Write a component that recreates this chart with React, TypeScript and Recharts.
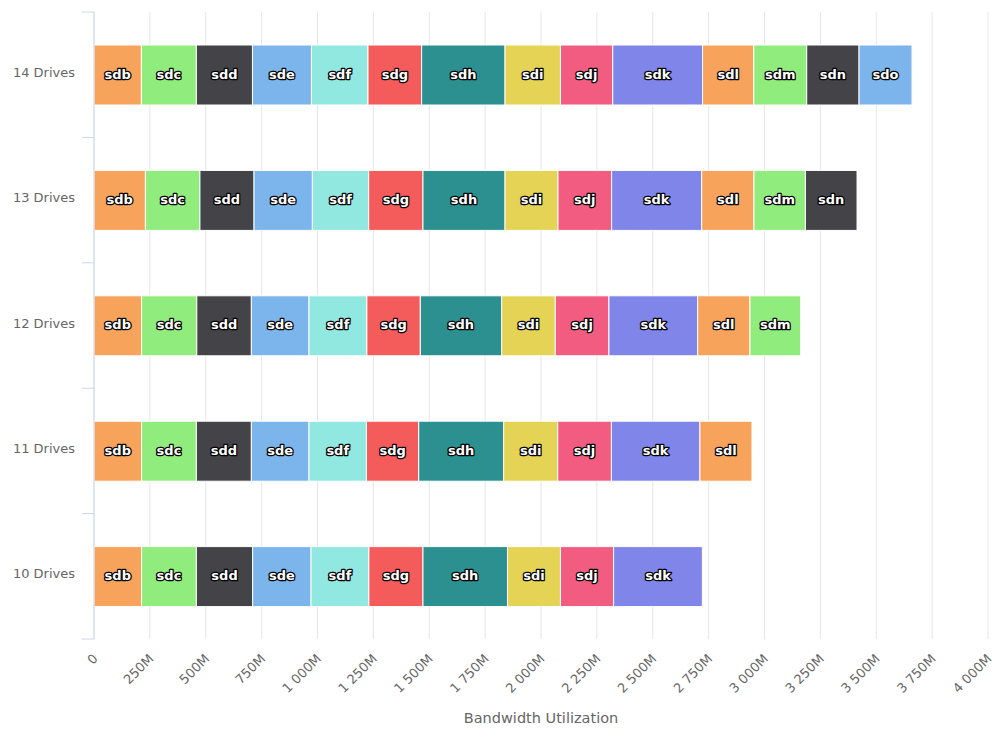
import React from 'react';
import { BarChart, Bar, XAxis, YAxis, CartesianGrid, LabelList } from 'recharts';

// Rows of the chart, top to bottom
const categories = ['14 Drives', '13 Drives', '12 Drives', '11 Drives', '10 Drives'];

// Bandwidth per drive (in M) for each row; null where the drive is not in the set
const sdb = [212, 230, 213, 213, 213];
const sdc = [246, 244, 247, 245, 245];
const sdd = [251, 242, 244, 246, 252];
const sde = [264, 261, 258, 258, 261];
const sdf = [253, 252, 259, 257, 259];
const sdg = [240, 243, 239, 234, 242];
const sdh = [373, 367, 364, 380, 378];
const sdi = [248, 237, 240, 242, 237];
const sdj = [234, 240, 240, 240, 238];
const sdk = [402, 403, 397, 396, 397];
const sdl = [229, 234, 234, 233, null];
const sdm = [237, 230, 227, null, null];
const sdn = [234, 231, null, null, null];
const sdo = [237, null, null, null, null];

const driveNames = ['sdb', 'sdc', 'sdd', 'sde', 'sdf', 'sdg', 'sdh', 'sdi', 'sdj', 'sdk', 'sdl', 'sdm', 'sdn', 'sdo'];
const driveValues: Record<string, (number | null)[]> = { sdb, sdc, sdd, sde, sdf, sdg, sdh, sdi, sdj, sdk, sdl, sdm, sdn, sdo };

const palette = ['#f7a35c', '#90ed7d', '#434348', '#7cb5ec', '#91e8e1', '#f45b5b', '#2b908f', '#e4d354', '#f15c80', '#8085e9'];

const xTicks = [0, 250, 500, 750, 1000, 1250, 1500, 1750, 2000, 2250, 2500, 2750, 3000, 3250, 3500, 3750, 4000];

const data = categories.map((name, i) => {
  const row: Record<string, string | number> = { name };
  driveNames.forEach(d => {
    const v = driveValues[d][i];
    if (v != null) row[d] = v;
  });
  return row;
});

const WIDTH = 1000;
const HEIGHT = 752;
const PLOT_TOP = 12;
const PLOT_BOTTOM = 639;
const BAND = (PLOT_BOTTOM - PLOT_TOP) / categories.length;
const AXIS_COLOR = '#ccd6eb';
const TEXT_COLOR = '#666666';

const formatBandwidth = (v: number) =>
  v === 0 ? '0' : `${String(v).replace(/\B(?=(\d{3})+(?!\d))/g, ' ')}M`;

// category label plus tick marks on the band boundaries
const DriveTick = (props: any) => {
  const { x, y, payload, index } = props;
  const half = BAND / 2;
  return (
    <g>
      <line x1={x - 12} x2={x} y1={y - half} y2={y - half} stroke={AXIS_COLOR} />
      {index === categories.length - 1 && (
        <line x1={x - 12} x2={x} y1={y + half} y2={y + half} stroke={AXIS_COLOR} />
      )}
      <text x={x - 19} y={y + 2} textAnchor="end" fill={TEXT_COLOR} fontSize={13}>
        {payload.value}
      </text>
    </g>
  );
};

const renderDriveLabel = (name: string) => (props: any) => {
  const { x, y, width, height, value } = props;
  if (value == null) return null;
  return (
    <text
      x={x + width / 2}
      y={y + height / 2 - 1}
      textAnchor="middle"
      dominantBaseline="central"
      fill="#ffffff"
      stroke="#000000"
      strokeWidth={2.5}
      strokeLinejoin="round"
      paintOrder="stroke"
      fontSize={13}
      fontWeight="bold"
    >
      {name}
    </text>
  );
};

export default function App() {
  return (
    <div style={{ position: 'absolute', left: 0, top: 0, width: WIDTH, height: HEIGHT, background: '#fff', fontFamily: '"DejaVu Sans", sans-serif' }}>
      <BarChart
        width={WIDTH}
        height={HEIGHT}
        data={data}
        layout="vertical"
        margin={{ top: PLOT_TOP, right: 12, bottom: 0, left: 0 }}
      >
        <CartesianGrid horizontal={false} stroke="#e6e6e6" />
        <XAxis
          type="number"
          domain={[0, 4000]}
          ticks={xTicks}
          interval={0}
          axisLine={false}
          tickLine={false}
          tickMargin={8}
          height={HEIGHT - PLOT_BOTTOM}
          angle={-45}
          textAnchor="end"
          tick={{ fill: TEXT_COLOR, fontSize: 13, dx: -2 }}
          tickFormatter={formatBandwidth}
          label={{ value: 'Bandwidth Utilization', position: 'insideBottom', offset: 29, fill: TEXT_COLOR, fontSize: 14.5 }}
        />
        <YAxis
          type="category"
          dataKey="name"
          width={94}
          tickSize={0}
          tickMargin={0}
          tickLine={false}
          axisLine={{ stroke: AXIS_COLOR }}
          tick={<DriveTick />}
          interval={0}
        />
        {driveNames.map((d, i) => (
          <Bar
            key={d}
            dataKey={d}
            stackId="drives"
            fill={palette[i % palette.length]}
            stroke="#ffffff"
            strokeWidth={1}
            barSize={60}
            isAnimationActive={false}
          >
            <LabelList dataKey={d} content={renderDriveLabel(d)} />
          </Bar>
        ))}
      </BarChart>
    </div>
  );
}
